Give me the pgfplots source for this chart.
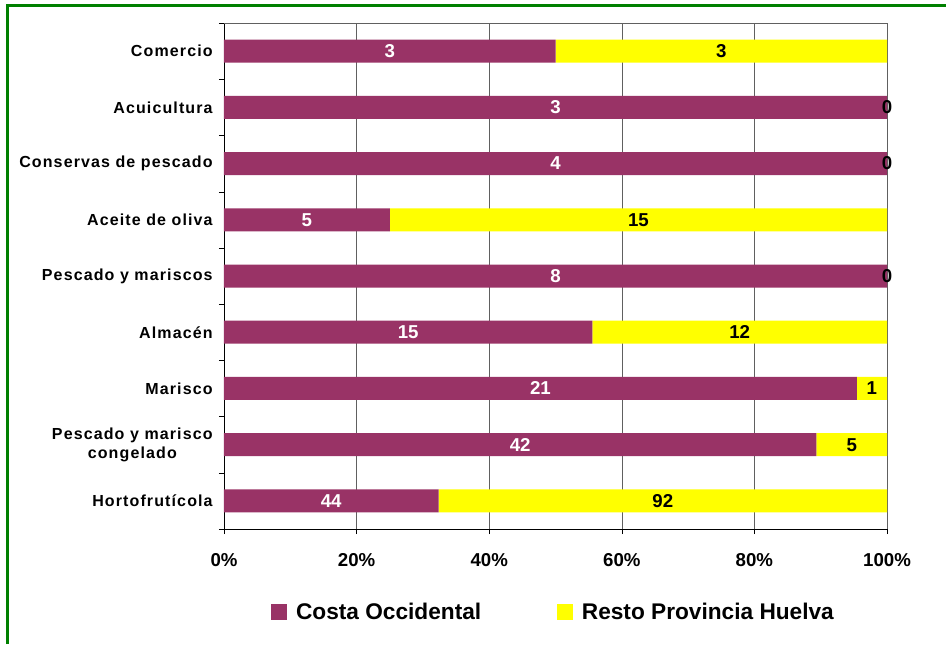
\documentclass[border=0pt]{standalone}
\usepackage{pgfplots}
\pgfplotsset{compat=1.18}
\usepackage{pgfplotstable}
\usepackage{fontspec}
\setmainfont{Liberation Sans}
\newfontfamily\catfont{Liberation Sans}[LetterSpace=7]
\definecolor{maroon}{HTML}{993366}
\definecolor{yel}{HTML}{FFFF00}
\definecolor{frameg}{HTML}{008000}
\definecolor{gridc}{HTML}{606060}

% pos  Costa  Resto  pct-Costa pct-Resto  label positions
\pgfplotstableread{
pos c1 c2 p1 p2 m1 m2
8 3 3 50 50 25 75
7 3 0 100 0 50 100
6 4 0 100 0 50 100
5 5 15 25 75 12.5 62.5
4 8 0 100 0 50 100
3 15 12 55.556 44.444 27.778 77.778
2 21 1 95.455 4.545 47.727 97.727
1 42 5 89.362 10.638 44.681 94.681
0 44 92 32.353 67.647 16.176 66.176
}\data

\begin{document}
\begin{tikzpicture}
\useasboundingbox (0,0) rectangle (709.5pt,-483pt);
\draw[line width=2.25pt, color=frameg] (5.625pt,-483pt) -- (5.625pt,-4.125pt) -- (709.5pt,-4.125pt);
\begin{axis}[
  at={(168pt,-396.75pt)}, anchor=south west,
  width=497.25pt, height=379.5pt, scale only axis,
  xbar stacked, bar width=17.25pt,
  xmin=0, xmax=100, ymin=-0.5, ymax=8.5,
  enlargelimits=false,
  axis x line*=bottom, axis y line*=left,
  axis line style={-, black},
  xtick={0,20,...,100},
  xticklabels={0\%,20\%,40\%,60\%,80\%,100\%},
  xmajorgrids, major grid style={gridc},
  ytick={0,...,8},
  yticklabels={Hortofrutícola,{Pescado y marisco\\congelado},Marisco,Almacén,Pescado y mariscos,Aceite de oliva,Conservas de pescado,Acuicultura,Comercio},
  minor xtick={0,20,...,100},
  minor ytick={-0.5,0.5,...,8.5},
  tick align=outside,
  major tick length=0pt, minor tick length=3.75pt,
  minor tick style={black},
  xticklabel style={font=\fontsize{14}{16}\selectfont\bfseries, yshift=-14.5pt},
  yticklabel style={font=\catfont\fontsize{12}{14}\selectfont\bfseries, align=center, xshift=-5pt},
  /pgf/number format/assume math mode=true,
  legend style={at={(0.4977,-0.164)}, anchor=center, draw=none, fill=none,
    legend columns=2, font=\fontsize{17}{20}\selectfont\bfseries,
    /tikz/every even column/.append style={column sep=55pt}},
  legend image code/.code={\fill[#1, draw=none] (0pt,-6pt) rectangle (12pt,6pt);},
]
\addplot[fill=maroon, draw=none] table[x=p1, y=pos]{\data};
\addplot[fill=yel, draw=none] table[x=p2, y=pos]{\data};
\legend{\hspace{4.5pt}Costa Occidental, \hspace{4.5pt}Resto Provincia Huelva}
\draw[gridc] (rel axis cs:0,1) -- (rel axis cs:1,1) -- (rel axis cs:1,0);
\end{axis}
\begin{axis}[
  at={(168pt,-396.75pt)}, anchor=south west,
  width=497.25pt, height=379.5pt, scale only axis,
  xmin=0, xmax=100, ymin=-0.5, ymax=8.5,
  hide axis,
  point meta=explicit symbolic,
  every node near coord/.append style={font=\fontsize{14}{16}\selectfont\bfseries, anchor=center},
]
\addplot[draw=none, mark=none, nodes near coords, every node near coord/.append style={text=white, anchor=center}] table[x=m1, y=pos, meta=c1]{\data};
\addplot[draw=none, mark=none, nodes near coords, every node near coord/.append style={text=black, anchor=center}] table[x=m2, y=pos, meta=c2]{\data};
\end{axis}
\end{tikzpicture}
\end{document}
